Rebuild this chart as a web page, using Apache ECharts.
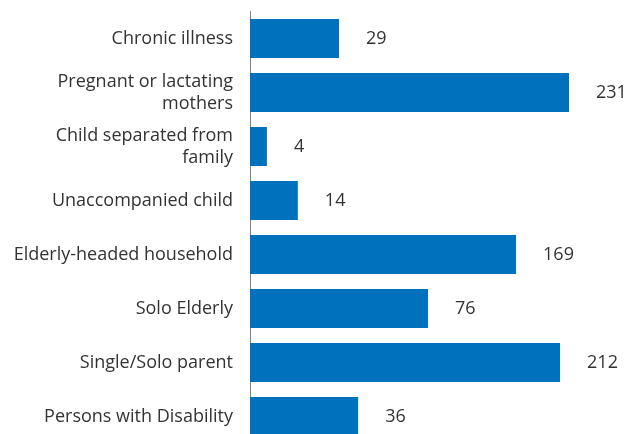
<!DOCTYPE html>
<html>
<head>
<meta charset="utf-8">
<script src="https://cdn.jsdelivr.net/npm/echarts@6/dist/echarts.min.js"></script>
<style>
  html, body { margin: 0; padding: 0; background: #fff; }
  #chart { width: 625px; height: 434px; }
</style>
</head>
<body>
<div id="chart"></div>
<script>
// Categories, top to bottom
const categories = [
    'Chronic illness',
    'Pregnant or lactating\nmothers',
    'Child separated from\nfamily',
    'Unaccompanied child',
    'Elderly-headed household',
    'Solo Elderly',
    'Single/Solo parent',
    'Persons with Disability'
];

// Numbers printed next to each bar
const counts = [29, 231, 4, 14, 169, 76, 212, 36];

// Bar lengths as drawn in the picture (relative, longest bar = 100)
const barLengths = [27.9, 100, 5.3, 15.0, 83.4, 55.8, 97.2, 33.9];

const chart = echarts.init(document.getElementById('chart'));

const option = {
    animation: false,
    grid: {
        left: 250,
        right: 56,
        top: 11.5,
        height: 432,
        containLabel: false,
        outerBoundsMode: 'none'
    },
    xAxis: {
        type: 'value',
        min: 0,
        max: 100,
        show: false
    },
    yAxis: {
        type: 'category',
        inverse: true,
        data: categories,
        axisLine: { show: true, lineStyle: { color: '#808080', width: 1 } },
        axisTick: { show: false },
        axisLabel: {
            margin: 17,
            color: '#333',
            fontFamily: 'Open Sans',
            fontSize: 18,
            lineHeight: 22,
            align: 'right'
        }
    },
    series: [
        {
            type: 'bar',
            data: barLengths,
            barWidth: 39,
            itemStyle: { color: '#0071bc' },
            label: {
                show: true,
                position: 'right',
                distance: 27,
                color: '#333',
                fontFamily: 'Open Sans',
                fontSize: 18,
                formatter: p => counts[p.dataIndex]
            }
        }
    ]
};

chart.setOption(option);

window.addEventListener('resize', () => {
    chart?.resize();
});
</script>
</body>
</html>
